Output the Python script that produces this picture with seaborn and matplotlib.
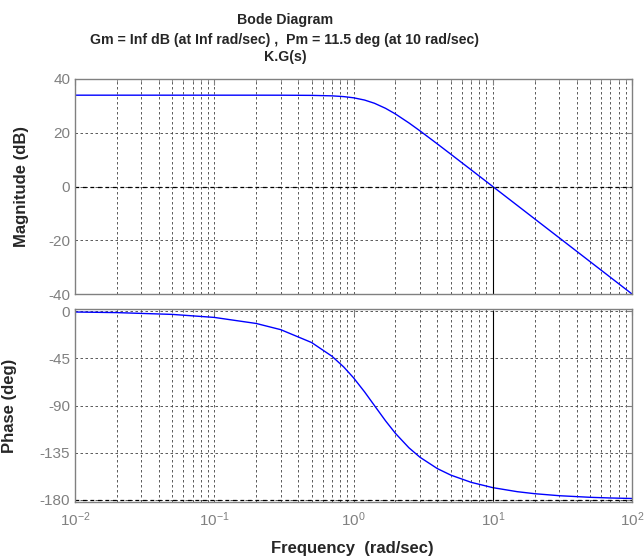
import matplotlib
matplotlib.use("Agg")
import matplotlib.pyplot as plt
import numpy as np
import pandas as pd
import seaborn as sns
from matplotlib.ticker import LogLocator, LogFormatterMathtext, NullFormatter, MultipleLocator

# values
freq = [0.01, 0.02, 0.05, 0.1, 0.2, 0.3, 0.5, 0.7, 0.85, 1, 1.2, 1.414, 1.7, 2, 2.5,
        3, 4, 5, 7, 10, 15, 20, 30, 50, 70, 100]
mag_db = [33.98, 33.98, 33.98, 33.98, 33.98, 33.97, 33.91, 33.73, 33.45, 33.01, 32.17,
          30.97, 29.08, 26.99, 23.66, 20.71, 15.85, 12.01, 6.19, 0.0, -7.04, -12.04,
          -19.08, -27.96, -33.80, -40.0]
phase_deg = [-0.57, -1.15, -2.87, -5.74, -11.53, -17.44, -29.74, -42.84, -53.08, -63.43,
             -76.87, -90.0, -104.67, -116.57, -130.36, -139.4, -150.26, -156.5, -163.41,
             -168.47, -172.34, -174.26, -176.18, -177.71, -178.36, -178.85]
wc = 10        # gain crossover (rad/sec)
pm = 11.5      # phase margin (deg)

df = pd.DataFrame({"w": freq, "mag": mag_db, "phase": phase_deg})

sns.set_style("white")
plt.rcParams["font.family"] = ["Liberation Sans", "DejaVu Sans"]
plt.rcParams["axes.unicode_minus"] = False
plt.rcParams["mathtext.fontset"] = "custom"
plt.rcParams["mathtext.rm"] = "Liberation Sans"
plt.rcParams["mathtext.it"] = "Liberation Sans"
plt.rcParams["mathtext.bf"] = "Liberation Sans:bold"

fig = plt.figure(figsize=(6.44, 5.59), dpi=100)
ax1 = fig.add_axes([75/644, 1-294/559, 557/644, 215/559])
ax2 = fig.add_axes([75/644, 1-502/559, 557/644, 193/559])

grey = "#808080"
sns.lineplot(data=df, x="w", y="mag", ax=ax1, color="#0000ff", lw=1, sort=False)
sns.lineplot(data=df, x="w", y="phase", ax=ax2, color="#0000ff", lw=1, sort=False)

for ax in (ax1, ax2):
    ax.set_xscale("log")
    ax.set_xlim(0.01, 100)
    ax.xaxis.set_major_locator(LogLocator(base=10, numticks=10))
    ax.xaxis.set_minor_locator(LogLocator(base=10, subs=np.arange(2, 10), numticks=100))
    ax.xaxis.set_minor_formatter(NullFormatter())
    ax.grid(True, which="major", axis="both", color="#404040", ls=(0, (3, 3)), lw=0.6)
    ax.grid(True, which="minor", axis="x", color="#404040", ls=(0, (3, 3)), lw=0.6)
    ax.tick_params(which="both", direction="in", top=True, right=True, colors=grey,
                   labelsize=11, length=4)
    ax.tick_params(which="minor", length=2)
    for s in ax.spines.values():
        s.set_color(grey)
        s.set_linewidth(1)
    ax.set_xlabel("")

ax1.set_ylim(-40, 40)
ax1.yaxis.set_major_locator(MultipleLocator(20))
ax1.xaxis.set_major_formatter(NullFormatter())
ax1.axhline(0, color="black", ls=(0, (3, 3)), lw=0.9)
ax1.plot([wc, wc], [-40, 0], color="black", lw=0.8)
ax1.set_ylabel("Magnitude (dB)", fontsize=12, fontweight="bold")
ax1.yaxis.set_label_coords(-0.083, 0.5)

ax2.set_ylim(-182.2, 2.3)
ax2.set_yticks([0, -45, -90, -135, -180])
ax2.xaxis.set_major_formatter(LogFormatterMathtext())
ax2.axhline(-180, color="black", ls=(0, (3, 3)), lw=0.9)
ax2.plot([wc, wc], [-180 + pm, 0], color="black", lw=0.8)
ax2.plot([wc, wc], [-180, -180 + pm], color="black", lw=0.8)
ax2.set_ylabel("Phase (deg)", fontsize=12, fontweight="bold")
ax2.yaxis.set_label_coords(-0.104, 0.5)
ax2.tick_params(axis="x", pad=6)

fig.text(352/644, 1-549/559, "Frequency  (rad/sec)", ha="center", va="center",
         fontsize=12, fontweight="bold")
fig.text(285/644, 1-20/559, "Bode Diagram", ha="center", va="center",
         fontsize=10.2, fontweight="bold")
fig.text(285/644, 1-40/559,
         "Gm = Inf dB (at Inf rad/sec) ,  Pm = 11.5 deg (at 10 rad/sec)",
         ha="center", va="center", fontsize=10.2, fontweight="bold")
fig.text(285/644, 1-57/559, "K.G(s)", ha="center", va="center",
         fontsize=10.2, fontweight="bold")

fig.savefig("out.png", dpi=100)
